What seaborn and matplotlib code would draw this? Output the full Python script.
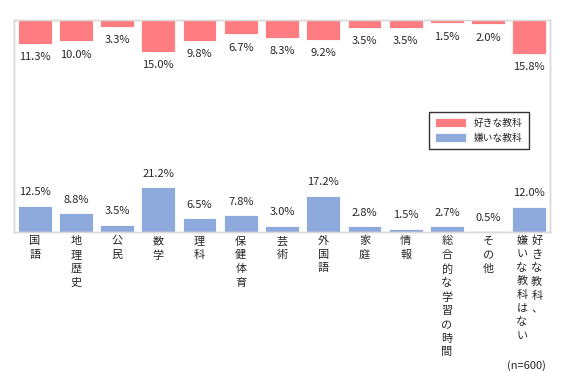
import matplotlib
matplotlib.use('Agg')
import matplotlib.pyplot as plt
import seaborn as sns

# categories and values (percent, n=600)
categories = ['国語', '地理歴史', '公民', '数学', '理科', '保健体育', '芸術',
              '外国語', '家庭', '情報', '総合的な学習の時間', 'その他',
              '好きな教科、嫌いな教科はない']
like = [11.3, 10.0, 3.3, 15.0, 9.8, 6.7, 8.3, 9.2, 3.5, 3.5, 1.5, 2.0, 15.8]
dislike = [12.5, 8.8, 3.5, 21.2, 6.5, 7.8, 3.0, 17.2, 2.8, 1.5, 2.7, 0.5, 12.0]

red = '#FF7C80'
blue = '#8EA9DB'
grid_gray = '#D9D9D9'

sns.set_style('white')
plt.rcParams['font.family'] = ['Noto Sans CJK JP', 'DejaVu Sans']

fig = plt.figure(figsize=(5.67, 3.73), dpi=100)
ax = fig.add_axes([0.0247, 0.378, 0.9453, 0.568])

# blue bars rise from the bottom
sns.barplot(x=categories, y=dislike, ax=ax, color=blue, width=0.82,
            edgecolor='white', linewidth=0.6, saturation=1, label='嫌いな教科')
ax.set_ylim(0, 100)

# red bars hang from the top on an inverted twin axis
ax2 = ax.twinx()
sns.barplot(x=categories, y=like, ax=ax2, color=red, width=0.82,
            edgecolor='white', linewidth=0.6, saturation=1, label='好きな教科')
ax2.set_ylim(100, 0)

for a in (ax, ax2):
    a.set_xlim(-0.5, len(categories) - 0.5)
    a.set_yticks([])
    a.set_ylabel('')
    a.set_xlabel('')
    for s in a.spines.values():
        s.set_color(grid_gray)
        s.set_linewidth(1)

ax.bar_label(ax.containers[0], fmt='%.1f%%', padding=6, fontsize=8)
ax2.bar_label(ax2.containers[0], fmt='%.1f%%', padding=6, fontsize=8)

# vertical category labels
lab_size = 8
lab_space = 1.45
ax2.set_xticks([])
ax.set_xticks(range(len(categories)))
ax.set_xticklabels(['\n'.join(c) if i < len(categories) - 1 else ''
                    for i, c in enumerate(categories)],
                   fontsize=lab_size, linespacing=lab_space, va='top')
ax.tick_params(axis='x', length=0, pad=3)

# last label: two vertical columns (right column read first)
last = len(categories) - 1
trans = ax.get_xaxis_transform()
right_col, left_col = categories[last].split('、')
ax.text(last + 0.18, -0.015, '\n'.join(right_col + '、'), transform=trans,
        ha='center', va='top', fontsize=lab_size, linespacing=lab_space)
ax.text(last - 0.18, -0.015, '\n'.join(left_col), transform=trans,
        ha='center', va='top', fontsize=lab_size, linespacing=lab_space)

h1, l1 = ax.get_legend_handles_labels()
h2, l2 = ax2.get_legend_handles_labels()
if ax.get_legend() is not None:
    ax.get_legend().remove()
leg = ax2.legend(h2 + h1, l2 + l1, loc='upper right', bbox_to_anchor=(0.96, 0.566),
                 borderaxespad=0, fontsize=7, frameon=True, fancybox=False,
                 handlelength=3.2, handleheight=1.1, borderpad=0.6)
leg.get_frame().set_edgecolor('black')
leg.get_frame().set_linewidth(1)

fig.text(0.963, 0.005, '(n=600)', ha='right', va='bottom', fontsize=8)

fig.savefig('out.png', dpi=100)
